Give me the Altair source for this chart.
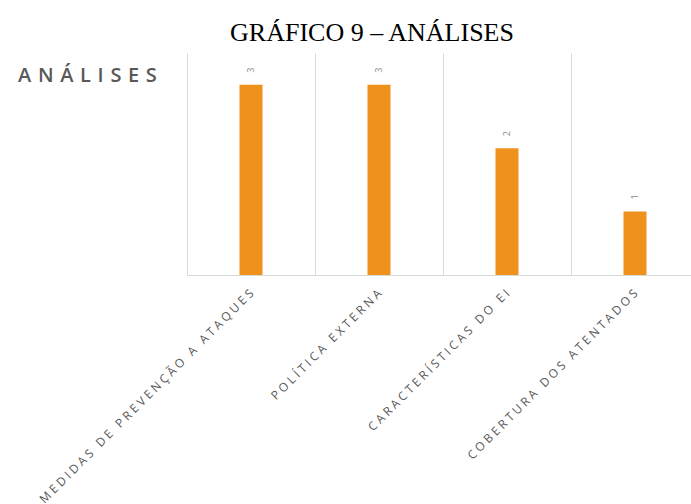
import altair as alt
import pandas as pd

# Chart content
chart_title = "GRÁFICO 9 – ANÁLISES"
panel_title = "ANÁLISES"
categories = [
    "MEDIDAS DE PREVENÇÃO A ATAQUES",
    "POLÍTICA EXTERNA",
    "CARACTERÍSTICAS DO EI",
    "COBERTURA DOS ATENTADOS",
]
counts = [3, 3, 2, 1]

LABEL_GAP = "\u2005"  # four-per-em space, letter-spaces the axis labels
TITLE_GAP = "\u2004"  # three-per-em space, letter-spaces the panel heading


def tracked(text, gap):
    return gap.join(text)


df = pd.DataFrame({"tema": categories, "qtd": counts})

x_enc = alt.X(
    "tema:N",
    sort=None,
    scale=alt.Scale(range=[0, 512], paddingInner=0, paddingOuter=0),
    axis=alt.Axis(
        title=None,
        labelAngle=-45,
        labelAlign="right",
        labelBaseline="middle",
        labelFont="Open Sans",
        labelFontSize=12,
        labelColor="#595959",
        labelPadding=16,
        labelLimit=500,
        labelOverlap=False,
        labelExpr=f"join(split(datum.label, ''), '{LABEL_GAP}')",
        ticks=False,
        grid=True,
        tickBand="extent",
        gridColor="#d9d9d9",
        domainColor="#d9d9d9",
    ),
)
y_enc = alt.Y("qtd:Q", scale=alt.Scale(domain=[0, 3.5]), axis=None)

base = alt.Chart(df).encode(x=x_enc, y=y_enc)

bars = base.mark_bar(size=23, color="#EE911D")

value_labels = base.mark_text(
    angle=270,
    align="left",
    baseline="middle",
    dx=12,
    font="Open Sans",
    fontSize=9,
    color="#8a8a8a",
).encode(text="qtd:Q")

main_title = (
    alt.Chart(pd.DataFrame({"t": [chart_title]}))
    .mark_text(
        font="Liberation Serif",
        fontSize=26,
        color="#000000",
        align="center",
        baseline="alphabetic",
    )
    .encode(text="t:N", x=alt.value(185), y=alt.value(-12))
)

inner_title = (
    alt.Chart(pd.DataFrame({"t": [tracked(panel_title, TITLE_GAP)]}))
    .mark_text(
        font="Open Sans",
        fontSize=20,
        fontWeight=600,
        color="#595959",
        align="left",
        baseline="alphabetic",
    )
    .encode(text="t:N", x=alt.value(-169), y=alt.value(29))
)

chart = (
    alt.layer(bars, value_labels, main_title, inner_title)
    .properties(
        width=504,
        height=222,
        autosize=alt.AutoSizeParams(type="none"),
        padding={"left": 187, "top": 53, "right": 0, "bottom": 229},
        background="white",
    )
    .configure_view(stroke=None)
)

chart.save("out.html", embed_options={"renderer": "svg", "actions": False})
